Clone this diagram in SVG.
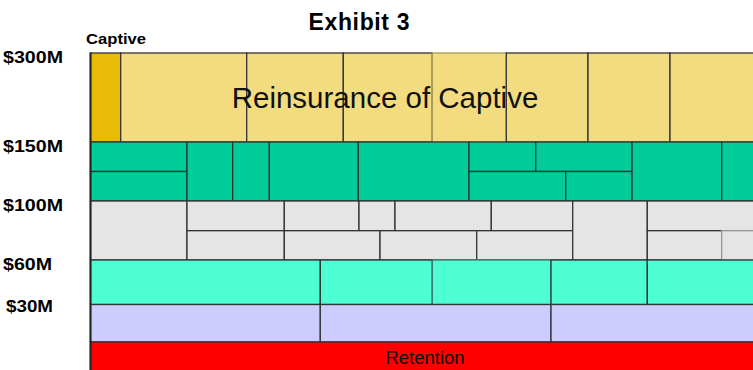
<svg xmlns="http://www.w3.org/2000/svg" width="753" height="370" viewBox="0 0 753 370">
<style>
.c{stroke:#333;stroke-width:1.3}
.y{fill:#F3DC80}
.cap{fill:#E8BC06}
.g{fill:#00CC99}
.gr{fill:#E5E5E5}
.aq{fill:#4DFFD3}
.lv{fill:#CCCCFF}
.rd{fill:#FF0000}
.lbl{font-family:"Liberation Sans",Arial,sans-serif;font-weight:bold;fill:#000}
.big{font-family:"Liberation Sans",Arial,sans-serif;fill:#111}
</style>
<rect width="753" height="370" fill="#fff"/>
<text class="lbl" x="359" y="30" font-size="23" text-anchor="middle" textLength="101">Exhibit 3</text>
<text class="lbl" x="86" y="44" font-size="15" textLength="60" lengthAdjust="spacingAndGlyphs">Captive</text>
<g id="axis">
<text class="lbl" x="3" y="63" font-size="17" textLength="60" lengthAdjust="spacingAndGlyphs">$300M</text>
<text class="lbl" x="3" y="152" font-size="17" textLength="60" lengthAdjust="spacingAndGlyphs">$150M</text>
<text class="lbl" x="3" y="211" font-size="17" textLength="60" lengthAdjust="spacingAndGlyphs">$100M</text>
<text class="lbl" x="3" y="270" font-size="17" textLength="49" lengthAdjust="spacingAndGlyphs">$60M</text>
<text class="lbl" x="6" y="312" font-size="17" textLength="47" lengthAdjust="spacingAndGlyphs">$30M</text>
</g>
<g id="layer-reinsurance">
<rect class="c cap" x="90.5" y="53" width="30.2" height="89"/>
<rect class="c y" x="120.7" y="53" width="126" height="89"/>
<rect class="c y" x="246.7" y="53" width="96.6" height="89"/>
<rect class="c y" x="343.3" y="53" width="89" height="89"/>
<rect class="c y" x="432.3" y="53" width="74" height="89" style="stroke:#A89A5A"/>
<rect class="c y" x="506.3" y="53" width="81.7" height="89"/>
<rect class="c y" x="588" y="53" width="82" height="89"/>
<rect class="c y" x="670" y="53" width="90" height="89"/>
<text class="big" x="385" y="108" font-size="29.5" text-anchor="middle">Reinsurance of Captive</text>
</g>
<g id="layer-150">
<rect class="c g" x="90.5" y="142" width="96.5" height="29.5"/>
<rect class="c g" x="90.5" y="171.5" width="96.5" height="29.5"/>
<rect class="c g" x="187" y="142" width="45.7" height="59"/>
<rect class="c g" x="232.7" y="142" width="36.6" height="59"/>
<rect class="c g" x="269.3" y="142" width="89" height="59"/>
<rect class="c g" x="358.3" y="142" width="110.7" height="59"/>
<rect class="c g" x="469" y="142" width="66.7" height="29.5"/>
<rect class="c g" x="535.7" y="142" width="96.3" height="29.5"/>
<rect class="c g" x="469" y="171.5" width="96.7" height="29.5"/>
<rect class="c g" x="565.7" y="171.5" width="66.3" height="29.5"/>
<rect class="c g" x="632" y="142" width="89.7" height="59"/>
<rect class="c g" x="721.7" y="142" width="40" height="59"/>
</g>
<g id="layer-100">
<rect class="c gr" x="90.5" y="201" width="96.5" height="59"/>
<rect class="c gr" x="187" y="201" width="97.3" height="29.7"/>
<rect class="c gr" x="284.3" y="201" width="74.7" height="29.7"/>
<rect class="c gr" x="359" y="201" width="36" height="29.7"/>
<rect class="c gr" x="395" y="201" width="96.3" height="29.7"/>
<rect class="c gr" x="491.3" y="201" width="81.4" height="29.7"/>
<rect class="c gr" x="187" y="230.7" width="97.3" height="29.3"/>
<rect class="c gr" x="284.3" y="230.7" width="95.7" height="29.3"/>
<rect class="c gr" x="380" y="230.7" width="96.7" height="29.3"/>
<rect class="c gr" x="476.7" y="230.7" width="96" height="29.3"/>
<rect class="c gr" x="572.7" y="201" width="74.6" height="59"/>
<rect class="c gr" x="647.3" y="201" width="113" height="29.7"/>
<rect class="c gr" x="647.3" y="230.7" width="74.4" height="29.3"/>
<rect class="c gr" x="721.7" y="230.7" width="40" height="29.3" style="stroke:#999"/>
</g>
<g id="layer-60">
<rect class="c aq" x="90.5" y="260" width="229.8" height="44.5"/>
<rect class="c aq" x="320.3" y="260" width="112" height="44.5"/>
<rect class="c aq" x="432.3" y="260" width="118.7" height="44.5" style="stroke:#3a7a6a"/>
<rect class="c aq" x="551" y="260" width="96.3" height="44.5"/>
<rect class="c aq" x="647.3" y="260" width="113" height="44.5"/>
</g>
<g id="layer-30">
<rect class="c lv" x="90.5" y="304.5" width="229.8" height="37.5"/>
<rect class="c lv" x="320.3" y="304.5" width="230.7" height="37.5"/>
<rect class="c lv" x="551" y="304.5" width="210" height="37.5"/>
</g>
<g id="retention">
<rect class="c rd" x="90.5" y="342" width="670" height="40"/>
<text class="big" x="425" y="364" font-size="18.5" text-anchor="middle" fill="#111">Retention</text>
</g>
<line x1="90.5" y1="52.5" x2="90.5" y2="370" stroke="#222" stroke-width="2"/>
</svg>
